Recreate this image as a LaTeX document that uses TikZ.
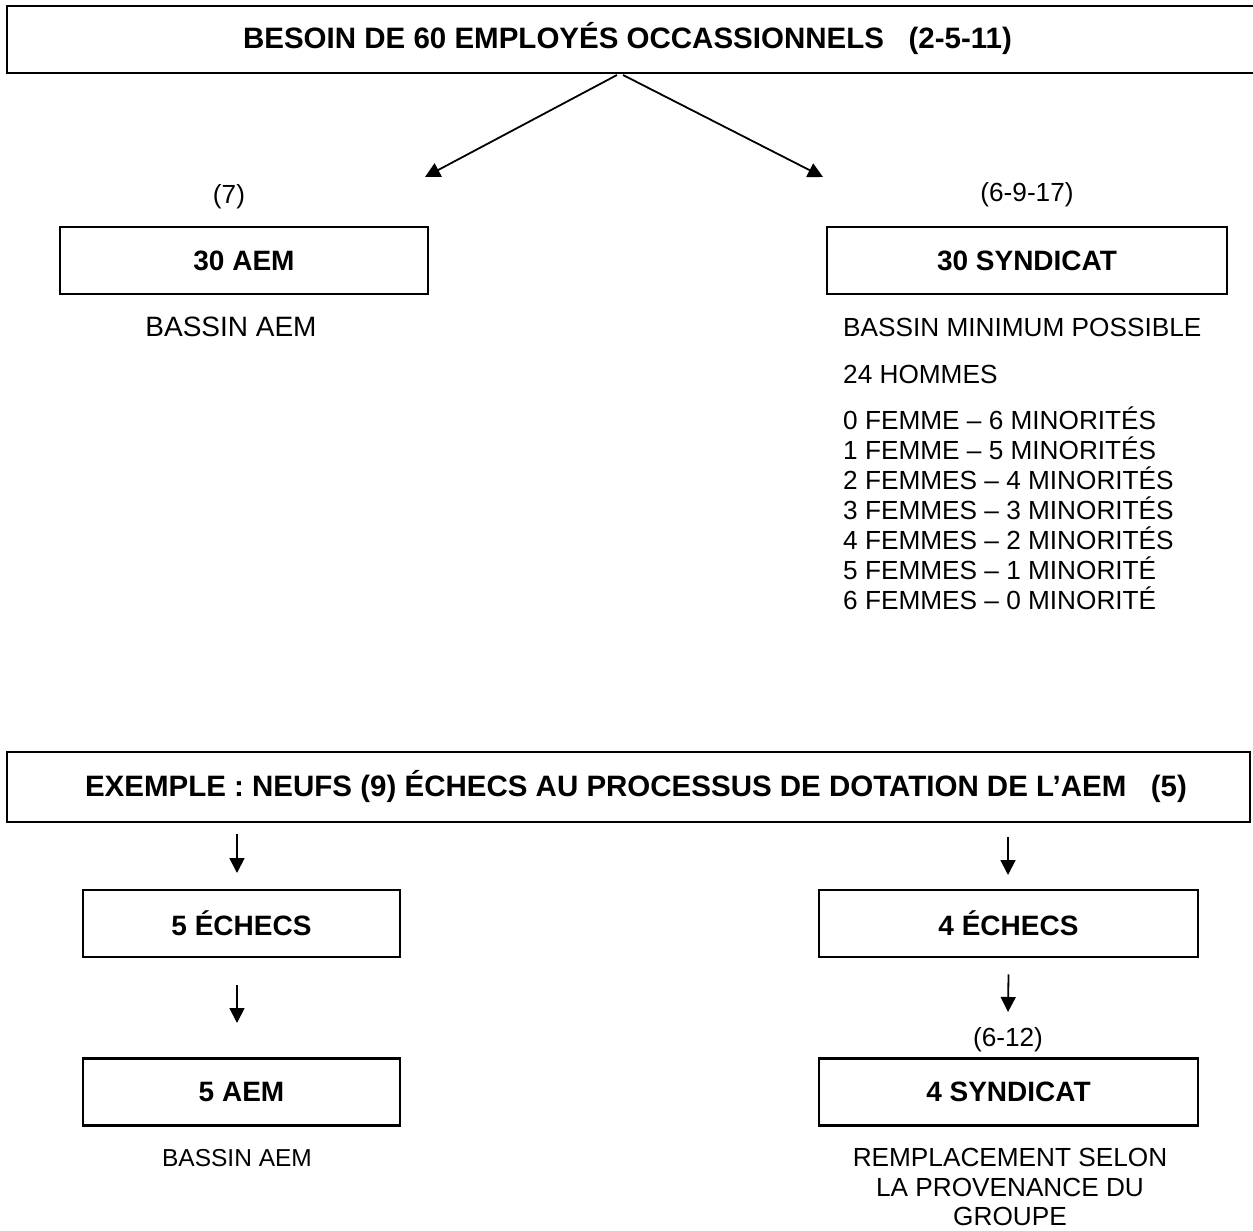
\documentclass[tikz,border=0pt]{standalone}
\usepackage{fontspec}
\setmainfont{Liberation Sans}
\usetikzlibrary{arrows.meta}
\begin{document}
\begin{tikzpicture}[x=1pt,y=-1pt,
  bigbox/.style={draw,line width=2pt,inner sep=0pt},
  smallbox/.style={draw,line width=2.8pt,inner sep=0pt,minimum height=67pt,font=\fontsize{28}{32}\selectfont\bfseries},
  heading/.style={inner sep=0pt,font=\fontsize{29.5}{33}\selectfont\bfseries},
  txt/.style={inner sep=0pt,font=\fontsize{26.2}{30}\selectfont},
  lst/.style={inner sep=0pt,anchor=base west,font=\fontsize{26.2}{30}\selectfont},
  conn/.style={line width=1.8pt,-{Triangle[length=15pt,width=15pt]}}]
\useasboundingbox (0,0) rectangle (1253,1231);

% top heading box
\node[bigbox,minimum width=1255pt,minimum height=67pt] (topbox) at (634.5,39.5) {};
\node[heading] (toptext) at (627.5,38) {BESOIN DE 60 EMPLOYÉS OCCASSIONNELS\ \ \ (2-5-11)};

\coordinate (tl) at (617,75);
\coordinate (tr) at (623,75);
\coordinate (el) at (425,177);
\coordinate (er) at (823,177);
\draw[conn] (tl) -- (el);
\draw[conn] (tr) -- (er);

% left branch
\node[txt] (l7) at (229,197) {(7)};
\node[smallbox,minimum width=368pt] (aem30) at (244,260.5) {30 AEM};
\node[txt,font=\fontsize{28}{32}\selectfont] (bassinl) at (231,327) {BASSIN AEM};

% right branch
\node[txt] (r7) at (1027,195) {(6-9-17)};
\node[smallbox,minimum width=400pt] (syn30) at (1027,260.5) {30 SYNDICAT};
\node[lst] (b1) at (843,336) {BASSIN MINIMUM POSSIBLE};
\node[lst] (b2) at (843,383) {24 HOMMES};
\node[lst] (f0) at (843,429) {0 FEMME – 6 MINORITÉS};
\node[lst] (f1) at (843,459) {1 FEMME – 5 MINORITÉS};
\node[lst] (f2) at (843,489) {2 FEMMES – 4 MINORITÉS};
\node[lst] (f3) at (843,519) {3 FEMMES – 3 MINORITÉS};
\node[lst] (f4) at (843,549) {4 FEMMES – 2 MINORITÉS};
\node[lst] (f5) at (843,579) {5 FEMMES – 1 MINORITÉ};
\node[lst] (f6) at (843,609) {6 FEMMES – 0 MINORITÉ};

% example box
\node[bigbox,minimum width=1243pt,minimum height=70pt] (exbox) at (628.5,787) {};
\node[heading] (extext) at (636,786) {EXEMPLE : NEUFS (9) ÉCHECS AU PROCESSUS DE DOTATION DE L’AEM\ \ \ (5)};

% left column bottom
\coordinate (a1s) at (237,834);
\coordinate (a1e) at (237,873);
\draw[conn] (a1s) -- (a1e);
\node[smallbox,minimum width=317pt] (ech5) at (241.5,923.5) {5 ÉCHECS};
\coordinate (a2e) at (237,1023);
\draw[conn] ([xshift=-4.5pt,yshift=-27pt]ech5.south) -- (a2e);
\node[smallbox,minimum width=317pt] (aem5) at (241.5,1092) {5 AEM};
\node[txt,font=\fontsize{24.5}{28}\selectfont] (bassinb) at (237,1158) {BASSIN AEM};

% right column bottom
\coordinate (a3s) at (1008,837);
\coordinate (a3e) at (1008,875);
\draw[conn] (a3s) -- (a3e);
\node[smallbox,minimum width=379pt] (ech4) at (1008.5,923.5) {4 ÉCHECS};
\coordinate (a4e) at (1008,1012);
\draw[conn] ([yshift=-16pt]ech4.south) -- (a4e);
\node[txt] (r612) at (1008,1040) {(6-12)};
\node[smallbox,minimum width=379pt] (syn4) at (1008.5,1092) {4 SYNDICAT};
\node[txt,align=center,font=\fontsize{26.2}{29.5}\selectfont] (rempl) at (1010,1187) {REMPLACEMENT SELON\\LA PROVENANCE DU\\GROUPE};
\end{tikzpicture}
\end{document}
